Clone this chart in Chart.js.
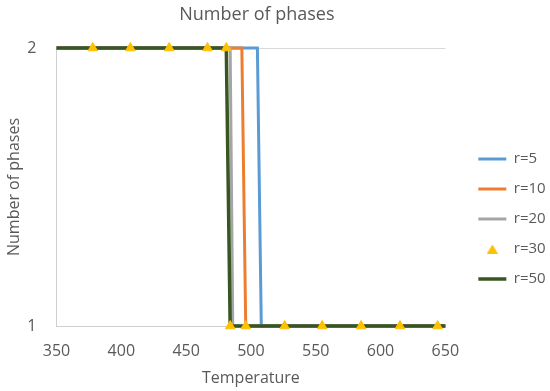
<!DOCTYPE html>
<html>
<head>
<meta charset="utf-8">
<script src="https://cdn.jsdelivr.net/npm/chart.js@4.4.1/dist/chart.umd.min.js"></script>
<style>
  html, body { margin: 0; padding: 0; background: #fff; }
  #wrap { width: 550px; height: 391px; }
</style>
</head>
<body>
<div id="wrap"><canvas id="phasesChart"></canvas></div>
<script>
// Number of phases vs temperature

const titleText = 'Number of phases';
const xTitle = 'Temperature';
const yTitle = 'Number of phases';

const seriesLabels = ['r=5', 'r=10', 'r=20', 'r=30', 'r=50'];
const seriesColors = ['#5B9BD5', '#ED7D31', '#A5A5A5', '#FFC000', '#375623'];

const tempR5 = [350, 505, 508, 650];
const phasesR5 = [2, 2, 1, 1];

const tempR10 = [350, 493, 496, 650];
const phasesR10 = [2, 2, 1, 1];

const tempR20 = [350, 484, 486, 650];
const phasesR20 = [2, 2, 1, 1];

const tempR30 = [378, 407, 437, 466.5, 481, 484, 496, 526, 555, 585, 615, 644];
const phasesR30 = [2, 2, 2, 2, 2, 1, 1, 1, 1, 1, 1, 1];

const tempR50 = [350, 481, 484, 650];
const phasesR50 = [2, 2, 1, 1];

const xTicks = [350, 400, 450, 500, 550, 600, 650];
const yTicks = [1, 2];

const textColor = '#595959';
const fontFamily = '"Open Sans", "DejaVu Sans", sans-serif';

function toPoints(xs, ys) {
    return xs.map((x, i) => ({ x, y: ys[i] }));
}

function lineSet(idx, xs, ys, order, width) {
    const c = seriesColors[idx];
    return {
        label: seriesLabels[idx],
        data: toPoints(xs, ys),
        yAxisID: 'y',
        clip: 8,
        borderColor: c,
        backgroundColor: c,
        borderWidth: width,
        tension: 0,
        pointStyle: 'line',
        pointRadius: 0,
        pointHoverRadius: 0,
        pointBorderColor: c,
        pointBackgroundColor: c,
        pointBorderWidth: width,
        order
    };
}

// small triangle for the legend (the built-in one gets stretched by pointStyleWidth)
const legendTriangle = document.createElement('canvas');
legendTriangle.width = 11;
legendTriangle.height = 9;
(function () {
    const g = legendTriangle.getContext('2d');
    g.fillStyle = seriesColors[3];
    g.beginPath();
    g.moveTo(5.5, 0);
    g.lineTo(11, 9);
    g.lineTo(0, 9);
    g.closePath();
    g.fill();
})();

// draws the chart title a bit left of canvas centre, like the reference
const chartTitle = {
    id: 'chartTitle',
    afterDraw(chart) {
        const ctx = chart.ctx;
        const area = chart.chartArea;
        ctx.save();
        ctx.font = '18px ' + fontFamily;
        ctx.fillStyle = textColor;
        ctx.textAlign = 'center';
        ctx.textBaseline = 'middle';
        ctx.fillText(titleText, (area.left + area.right) / 2 + 6, 15);
        ctx.restore();
    }
};

new Chart(document.getElementById('phasesChart'), {
    type: 'line',
    data: {
        datasets: [
            lineSet(0, tempR5, phasesR5, 4, 3),
            lineSet(1, tempR10, phasesR10, 3, 3),
            lineSet(2, tempR20, phasesR20, 2, 3),
            {
                label: seriesLabels[3],
                data: toPoints(tempR30, phasesR30),
                yAxisID: 'y',
                clip: 10,
                showLine: false,
                pointStyle: 'triangle',
                pointRadius: 5.5,
                pointHoverRadius: 5.5,
                pointBackgroundColor: seriesColors[3],
                pointBorderColor: seriesColors[3],
                pointBorderWidth: 1,
                borderColor: seriesColors[3],
                backgroundColor: seriesColors[3],
                order: 0
            },
            lineSet(4, tempR50, phasesR50, 1, 3.5)
        ]
    },
    options: {
        responsive: true,
        maintainAspectRatio: false,
        animation: false,
        layout: { padding: { top: 48, left: 5, right: -5, bottom: 3 } },
        plugins: {
            legend: {
                position: 'right',
                align: 'center',
                fullSize: false,
                title: { display: true, text: ' ', padding: 26, font: { size: 10 } },
                labels: {
                    usePointStyle: true,
                    pointStyleWidth: 28,
                    boxHeight: 8,
                    padding: 15,
                    color: textColor,
                    font: { size: 15, family: fontFamily },
                    sort: (a, b) => a.datasetIndex - b.datasetIndex,
                    generateLabels: chart => {
                        const items = Chart.defaults.plugins.legend.labels.generateLabels(chart);
                        items.forEach(it => {
                            if (it.text === seriesLabels[3]) it.pointStyle = legendTriangle;
                        });
                        return items;
                    }
                }
            },
            tooltip: { enabled: false }
        },
        scales: {
            x: {
                type: 'linear',
                min: xTicks[0],
                max: xTicks[xTicks.length - 1],
                afterBuildTicks: axis => { axis.ticks = xTicks.map(v => ({ value: v })); },
                afterFit: axis => { axis.height = 62; },
                grid: { display: false, drawTicks: false },
                border: { display: true, color: '#CFCFCF', width: 1 },
                ticks: { color: textColor, padding: 16, font: { size: 16, family: fontFamily } },
                title: {
                    display: true, text: xTitle, color: textColor,
                    padding: { top: 8, bottom: 0 },
                    font: { size: 16, family: fontFamily }
                }
            },
            y: {
                type: 'linear',
                min: yTicks[0],
                max: yTicks[yTicks.length - 1],
                afterBuildTicks: axis => { axis.ticks = yTicks.map(v => ({ value: v })); },
                afterFit: axis => { axis.width = 51.5; },
                grid: { color: '#D9D9D9', drawTicks: false },
                border: { display: true, color: '#CFCFCF', width: 1 },
                ticks: { color: textColor, padding: 20, font: { size: 16, family: fontFamily } },
                title: {
                    display: true, text: yTitle, color: textColor,
                    padding: { top: 0, bottom: 3 },
                    font: { size: 16, family: fontFamily }
                }
            },
            // empty gap between plot and legend
            spacer: {
                type: 'linear',
                position: 'right',
                min: 0,
                max: 1,
                grid: { display: false },
                border: { display: false },
                ticks: { display: false },
                afterFit: s => { s.width = 18; }
            }
        }
    },
    plugins: [chartTitle]
});
</script>
</body>
</html>
